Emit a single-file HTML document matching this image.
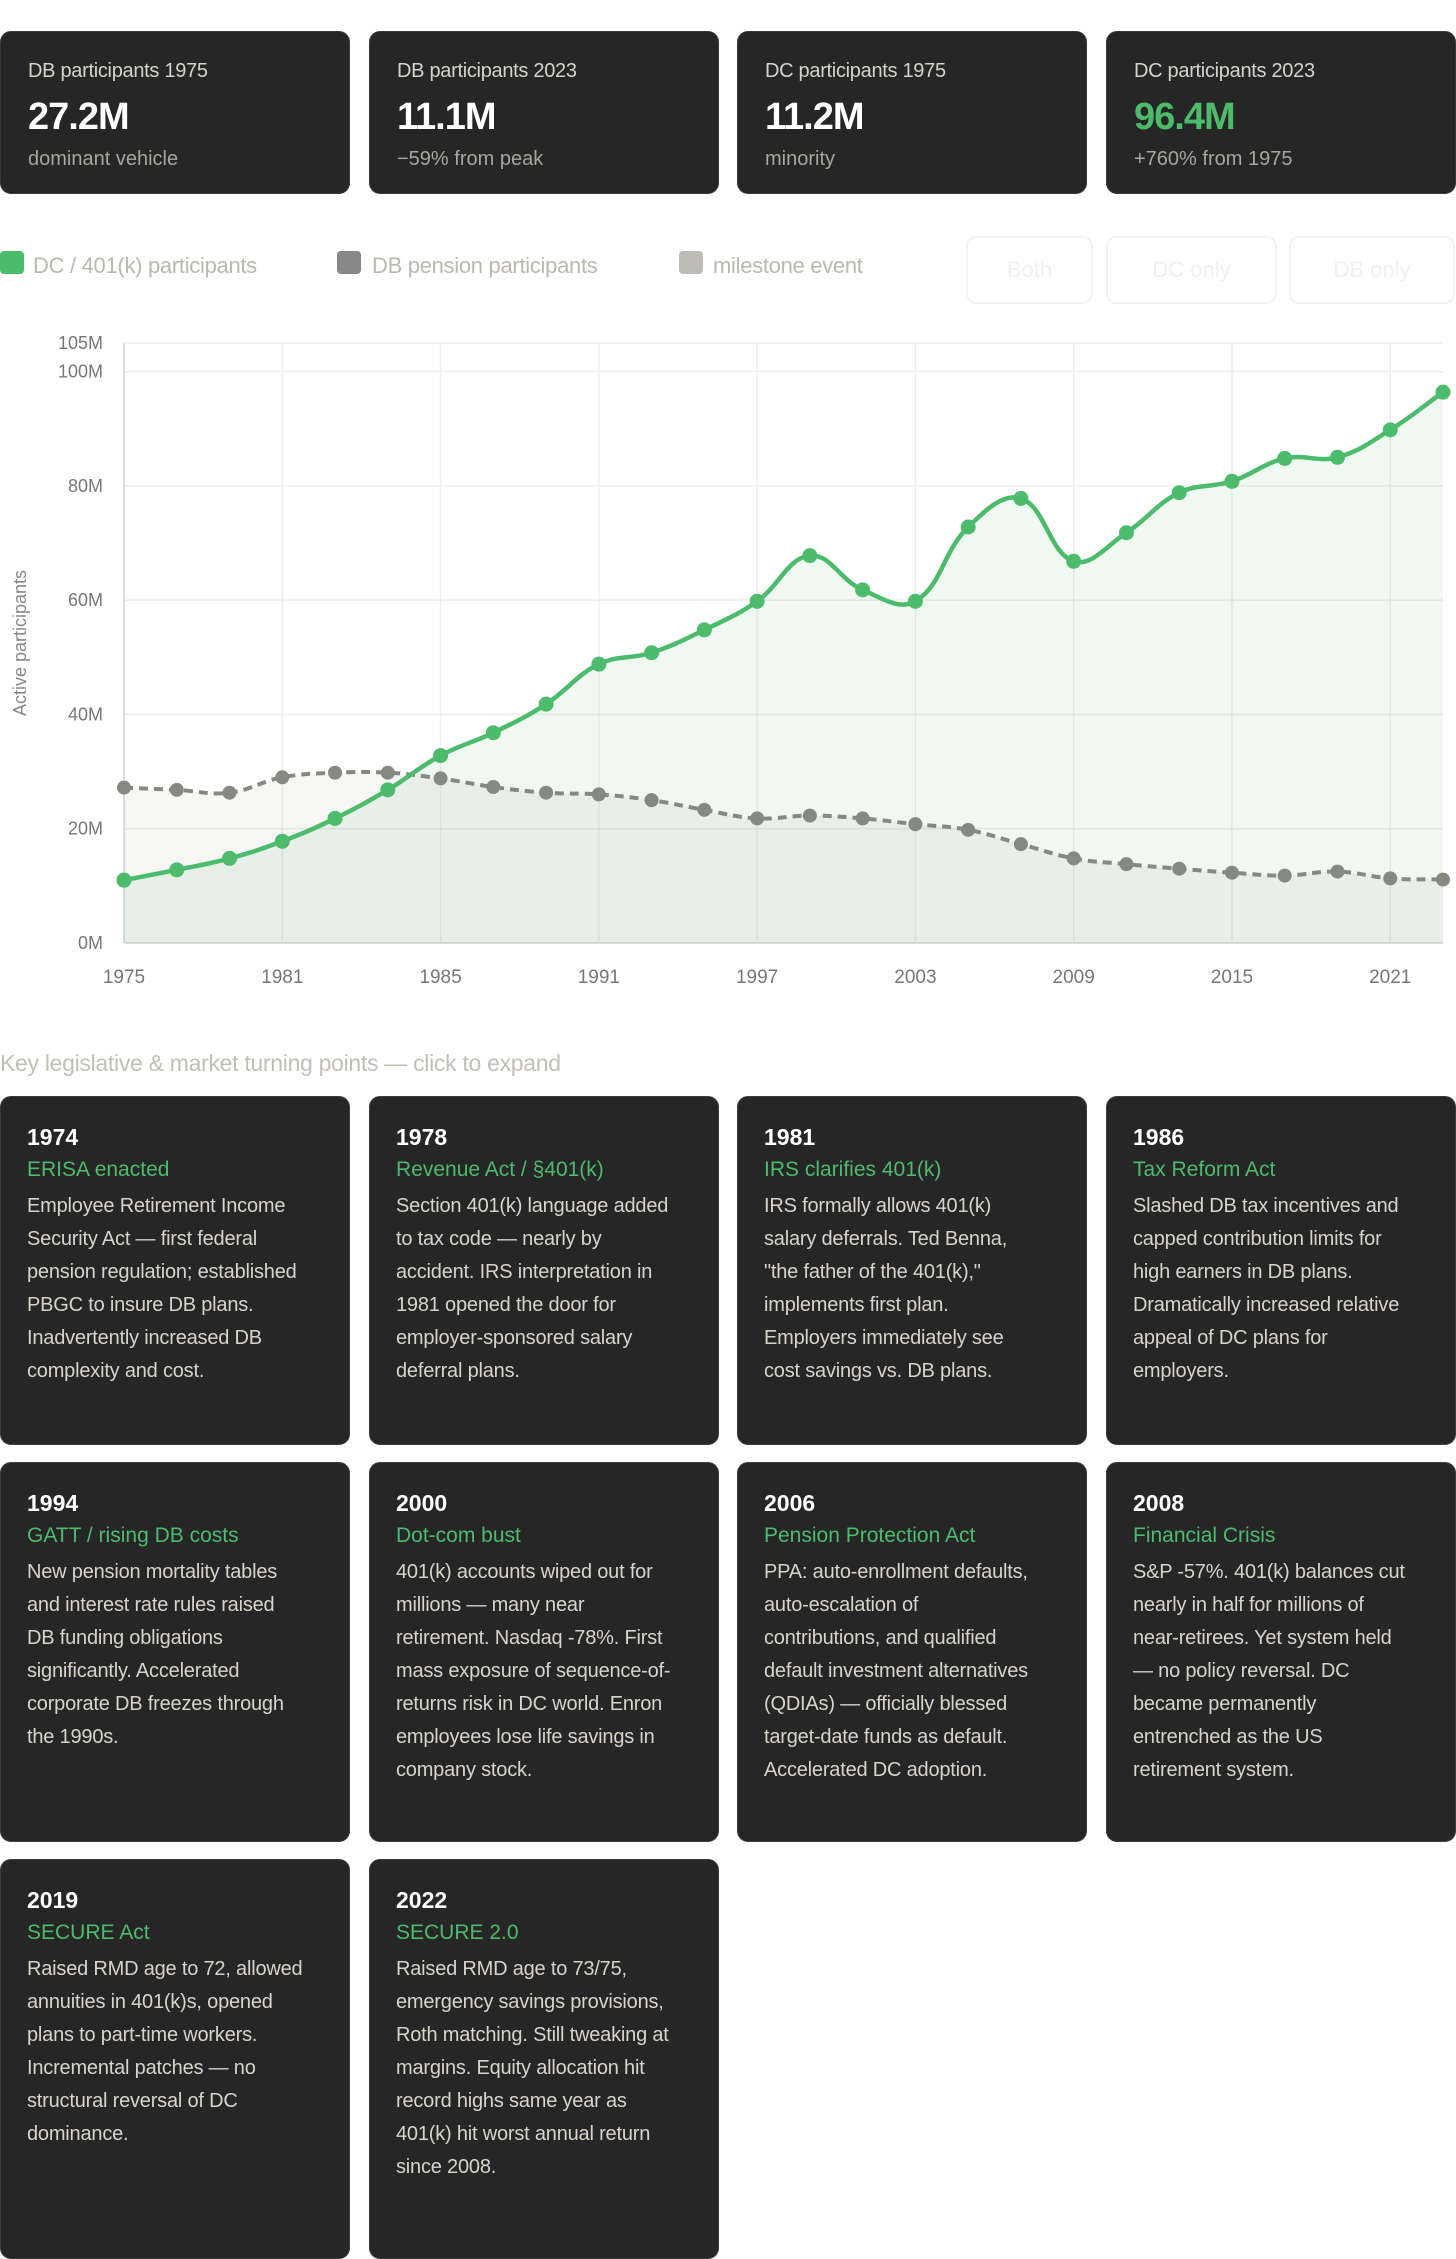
<!DOCTYPE html>
<html><head><meta charset="utf-8"><style>
*{box-sizing:border-box;margin:0;padding:0}
body{width:1456px;height:2241px;background:#fff;font-family:"Liberation Sans",sans-serif;position:relative;overflow:hidden}
.stat{position:absolute;top:31px;height:163px;width:350px;background:#262626;border:1px solid #3a3a3a;border-radius:11px;padding:0 27px}
.stat .l{position:absolute;top:28px;left:27px;font-size:20px;color:#d6d3cc;letter-spacing:-0.3px}
.stat .v{position:absolute;top:64px;left:27px;font-size:38px;font-weight:bold;color:#fff;letter-spacing:-1px}
.stat .s{position:absolute;top:116px;left:27px;font-size:20px;color:#a8a59e}
.leg{position:absolute;top:251px;width:24px;height:23px;border-radius:4px}
.legt{position:absolute;top:253px;font-size:22px;color:#bbb8b0;letter-spacing:-0.3px}
.btn{position:absolute;top:236px;height:68px;border:2px solid #f3f3f3;border-radius:10px;color:#f0f0f0;font-size:22px;text-align:center;line-height:64px}
.sec{position:absolute;top:1050px;left:0;font-size:23px;color:#c2bfb6;letter-spacing:-0.3px}
.card{position:absolute;width:350px;background:#262626;border:1px solid #3c3c3c;border-radius:11px;padding:24px 0 0 26px}
.card .y{font-size:23px;font-weight:bold;color:#fff;line-height:32px}
.card .t{font-size:21px;color:#4cbb6c;line-height:34px;margin-bottom:3px}
.card .b{font-size:20px;color:#d8d4cc;line-height:33px;white-space:nowrap;letter-spacing:-0.2px}
</style></head><body>
<div class="stat" style="left:0"><div class="l">DB participants 1975</div><div class="v">27.2M</div><div class="s">dominant vehicle</div></div>
<div class="stat" style="left:369px"><div class="l">DB participants 2023</div><div class="v">11.1M</div><div class="s">−59% from peak</div></div>
<div class="stat" style="left:737px"><div class="l">DC participants 1975</div><div class="v">11.2M</div><div class="s">minority</div></div>
<div class="stat" style="left:1106px"><div class="l">DC participants 2023</div><div class="v" style="color:#4cbb6c">96.4M</div><div class="s">+760% from 1975</div></div>

<div class="leg" style="left:0;background:#4cbb6c"></div>
<div class="legt" style="left:33px">DC / 401(k) participants</div>
<div class="leg" style="left:337px;background:#888"></div>
<div class="legt" style="left:372px">DB pension participants</div>
<div class="leg" style="left:679px;background:#bdbdb5"></div>
<div class="legt" style="left:713px">milestone event</div>
<div class="btn" style="left:966px;width:127px">Both</div>
<div class="btn" style="left:1106px;width:171px">DC only</div>
<div class="btn" style="left:1289px;width:166px">DB only</div>

<svg id="chart" style="position:absolute;left:0;top:320px" width="1456" height="700"></svg>

<div class="sec">Key legislative &amp; market turning points — click to expand</div>

<div class="card" style="left:0;top:1096px;height:349px"><div class="y">1974</div><div class="t">ERISA enacted</div><div class="b">Employee Retirement Income<br>Security Act — first federal<br>pension regulation; established<br>PBGC to insure DB plans.<br>Inadvertently increased DB<br>complexity and cost.</div></div>
<div class="card" style="left:369px;top:1096px;height:349px"><div class="y">1978</div><div class="t">Revenue Act / §401(k)</div><div class="b">Section 401(k) language added<br>to tax code — nearly by<br>accident. IRS interpretation in<br>1981 opened the door for<br>employer-sponsored salary<br>deferral plans.</div></div>
<div class="card" style="left:737px;top:1096px;height:349px"><div class="y">1981</div><div class="t">IRS clarifies 401(k)</div><div class="b">IRS formally allows 401(k)<br>salary deferrals. Ted Benna,<br>"the father of the 401(k),"<br>implements first plan.<br>Employers immediately see<br>cost savings vs. DB plans.</div></div>
<div class="card" style="left:1106px;top:1096px;height:349px"><div class="y">1986</div><div class="t">Tax Reform Act</div><div class="b">Slashed DB tax incentives and<br>capped contribution limits for<br>high earners in DB plans.<br>Dramatically increased relative<br>appeal of DC plans for<br>employers.</div></div>

<div class="card" style="left:0;top:1462px;height:380px"><div class="y">1994</div><div class="t">GATT / rising DB costs</div><div class="b">New pension mortality tables<br>and interest rate rules raised<br>DB funding obligations<br>significantly. Accelerated<br>corporate DB freezes through<br>the 1990s.</div></div>
<div class="card" style="left:369px;top:1462px;height:380px"><div class="y">2000</div><div class="t">Dot-com bust</div><div class="b">401(k) accounts wiped out for<br>millions — many near<br>retirement. Nasdaq -78%. First<br>mass exposure of sequence-of-<br>returns risk in DC world. Enron<br>employees lose life savings in<br>company stock.</div></div>
<div class="card" style="left:737px;top:1462px;height:380px"><div class="y">2006</div><div class="t">Pension Protection Act</div><div class="b">PPA: auto-enrollment defaults,<br>auto-escalation of<br>contributions, and qualified<br>default investment alternatives<br>(QDIAs) — officially blessed<br>target-date funds as default.<br>Accelerated DC adoption.</div></div>
<div class="card" style="left:1106px;top:1462px;height:380px"><div class="y">2008</div><div class="t">Financial Crisis</div><div class="b">S&amp;P -57%. 401(k) balances cut<br>nearly in half for millions of<br>near-retirees. Yet system held<br>— no policy reversal. DC<br>became permanently<br>entrenched as the US<br>retirement system.</div></div>

<div class="card" style="left:0;top:1859px;height:400px"><div class="y">2019</div><div class="t">SECURE Act</div><div class="b">Raised RMD age to 72, allowed<br>annuities in 401(k)s, opened<br>plans to part-time workers.<br>Incremental patches — no<br>structural reversal of DC<br>dominance.</div></div>
<div class="card" style="left:369px;top:1859px;height:400px"><div class="y">2022</div><div class="t">SECURE 2.0</div><div class="b">Raised RMD age to 73/75,<br>emergency savings provisions,<br>Roth matching. Still tweaking at<br>margins. Equity allocation hit<br>record highs same year as<br>401(k) hit worst annual return<br>since 2008.</div></div>

<script>
const years=[1975,1977,1979,1981,1983,1984,1985,1987,1989,1991,1993,1995,1997,1999,2001,2003,2005,2007,2009,2011,2013,2015,2017,2019,2021,2023];
const dcValues=[11.0,12.8,14.8,17.8,21.8,26.8,32.8,36.8,41.8,48.8,50.8,54.8,59.8,67.8,61.8,59.8,72.8,77.8,66.8,71.8,78.8,80.8,84.8,85.0,89.8,96.4];
const dbValues=[27.2,26.8,26.3,29.0,29.8,29.8,28.8,27.3,26.3,26.0,25.0,23.3,21.8,22.3,21.8,20.8,19.8,17.3,14.8,13.8,13.0,12.3,11.8,12.5,11.3,11.1];
const yTicks=[0,20,40,60,80,100,105];
const xLabelIdx=[0,3,6,9,12,15,18,21,24];

const svg=document.getElementById('chart');
const NS='http://www.w3.org/2000/svg';
const L=124,R=1443,T=23,B=623;
const ymax=105;
const X=i=>L+(R-L)*i/(years.length-1);
const Y=v=>B-(B-T)*v/ymax;
function mk(tag,attrs){const e=document.createElementNS(NS,tag);for(const k in attrs)e.setAttribute(k,attrs[k]);svg.appendChild(e);return e;}

yTicks.forEach(v=>{
  const g=mk('line',{x1:L,x2:R,y1:Y(v),y2:Y(v),stroke:v===0?'#ddd':'#eee','stroke-width':v===0?2:1.5});
  
  
  const t=mk('text',{x:103,y:Y(v)+6,'text-anchor':'end','font-size':18,fill:'#777','font-family':'Liberation Sans, sans-serif'});
  t.textContent=v+'M';
  
  
});
xLabelIdx.forEach(i=>{
  const g=mk('line',{x1:X(i),x2:X(i),y1:T,y2:B,stroke:'#eee','stroke-width':1.5});
  
  
  const t=mk('text',{x:X(i),y:663,'text-anchor':'middle','font-size':19,fill:'#777','font-family':'Liberation Sans, sans-serif'});
  t.textContent=years[i];
  
  
});
const ax=mk('line',{x1:L,x2:L,y1:T,y2:B,stroke:'#ddd','stroke-width':2});


const yt=mk('text',{x:26,y:323,'text-anchor':'middle','font-size':18,fill:'#888','font-family':'Liberation Sans, sans-serif',transform:'rotate(-90 26 323)'});
yt.textContent='Active participants';



function spline(vals){
  const p=vals.map((v,i)=>[X(i),Y(v)]);const t=0.4;
  let d='M'+p[0][0]+','+p[0][1];
  const cp=p.map((c,i)=>{
    const pr=p[Math.max(i-1,0)],nx=p[Math.min(i+1,p.length-1)];
    const d01=Math.hypot(c[0]-pr[0],c[1]-pr[1]),d12=Math.hypot(nx[0]-c[0],nx[1]-c[1]);
    const s=d01+d12||1;const fa=t*d01/s,fb=t*d12/s;
    return {pv:[c[0]-fa*(nx[0]-pr[0]),c[1]-fa*(nx[1]-pr[1])],nx:[c[0]+fb*(nx[0]-pr[0]),c[1]+fb*(nx[1]-pr[1])]};
  });
  for(let i=1;i<p.length;i++){d+=' C'+cp[i-1].nx.join(',')+' '+cp[i].pv.join(',')+' '+p[i].join(',');}
  return d;
}
const dcPath=spline(dcValues),dbPath=spline(dbValues);
const a1=mk('path',{d:dcPath+' L'+X(years.length-1)+','+B+' L'+L+','+B+' Z',fill:'rgba(76,187,108,0.09)'});


const a2=mk('path',{d:dbPath+' L'+X(years.length-1)+','+B+' L'+L+','+B+' Z',fill:'rgba(130,130,120,0.07)'});


const l2=mk('path',{d:dbPath,fill:'none',stroke:'#858a80','stroke-width':4,'stroke-dasharray':'9 6'});


const l1=mk('path',{d:dcPath,fill:'none',stroke:'#4cbb6c','stroke-width':4.5});


dbValues.forEach((v,i)=>{const c=mk('circle',{cx:X(i),cy:Y(v),r:7,fill:'#858a80'});
  
  });
dcValues.forEach((v,i)=>{const c=mk('circle',{cx:X(i),cy:Y(v),r:7.5,fill:'#4cbb6c'});
  
  });
</script>
</body></html>
